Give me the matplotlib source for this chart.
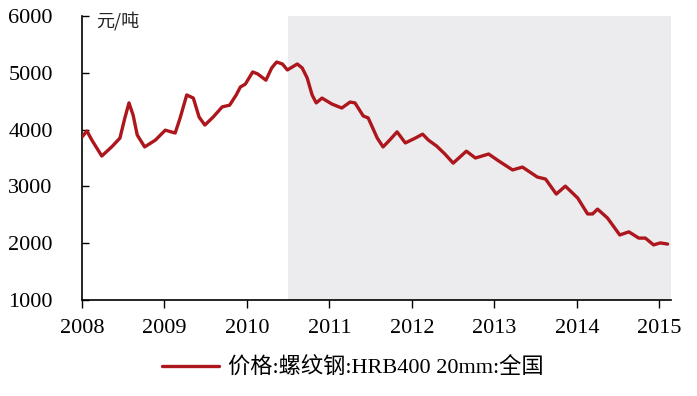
import matplotlib
matplotlib.use('Agg')
import matplotlib.pyplot as plt

# rebar price, decimal year vs yuan/ton
years = [2008.00, 2008.06, 2008.12, 2008.24, 2008.36, 2008.46, 2008.52, 2008.57,
         2008.62, 2008.67, 2008.76, 2008.89, 2009.01, 2009.13, 2009.19, 2009.27,
         2009.35, 2009.42, 2009.49, 2009.59, 2009.70, 2009.79, 2009.87, 2009.92,
         2009.98, 2010.07, 2010.13, 2010.23, 2010.30, 2010.36, 2010.43, 2010.49,
         2010.61, 2010.67, 2010.73, 2010.79, 2010.84, 2010.91, 2011.03, 2011.15,
         2011.25, 2011.31, 2011.41, 2011.47, 2011.58, 2011.65, 2011.73, 2011.82,
         2011.92, 2012.04, 2012.13, 2012.20, 2012.30, 2012.40, 2012.50, 2012.66,
         2012.77, 2012.93, 2013.05, 2013.22, 2013.34, 2013.52, 2013.62, 2013.75,
         2013.86, 2014.01, 2014.13, 2014.19, 2014.25, 2014.37, 2014.52, 2014.63,
         2014.75, 2014.83, 2014.93, 2015.01, 2015.10]
price = [3870, 3975, 3815, 3535, 3695, 3850, 4205, 4470,
         4255, 3905, 3695, 3815, 3990, 3940, 4205, 4610,
         4555, 4220, 4080, 4220, 4400, 4430, 4610, 4750,
         4800, 5015, 4980, 4870, 5085, 5190, 5155, 5050,
         5155, 5085, 4910, 4610, 4470, 4555, 4450, 4380,
         4485, 4470, 4240, 4205, 3850, 3695, 3815, 3960,
         3765, 3850, 3920, 3815, 3710, 3570, 3410, 3620,
         3500, 3570, 3450, 3290, 3340, 3165, 3130, 2865,
         3005, 2795, 2515, 2515, 2600, 2445, 2145, 2200,
         2090, 2090, 1970, 2005, 1985]
year_ticks = [2008, 2009, 2010, 2011, 2012, 2013, 2014, 2015]
price_ticks = [1000, 2000, 3000, 4000, 5000, 6000]
shade_start = 2010.5
series_name = '价格:螺纹钢:HRB400 20mm:全国'

serif = ['Liberation Serif', 'Noto Sans CJK SC']

fig = plt.figure(figsize=(6.97, 3.96), dpi=100)
ax = fig.add_axes([0.1176, 0.2424, 0.845, 0.7172])

ax.axvspan(shade_start, 2015.14, color='#ececee', lw=0, zorder=0)
ax.plot(years, price, color='#ad161c', lw=2.4, solid_joinstyle='round',
        solid_capstyle='round', label=series_name, zorder=3)

ax.set_xlim(2008, 2015.14)
ax.set_ylim(1000, 6000)
ax.set_xticks(year_ticks)
ax.set_yticks(price_ticks)
ax.set_xticklabels([str(y) for y in year_ticks], fontfamily=serif, fontsize=16)
ax.set_yticklabels([str(p) for p in price_ticks], fontfamily=serif, fontsize=16)
ax.tick_params(axis='y', direction='in', length=5, width=1, pad=21)
ax.tick_params(axis='x', direction='out', length=6, width=1, pad=8)

for s in ['top', 'right']:
    ax.spines[s].set_visible(False)
for s in ['left', 'bottom']:
    ax.spines[s].set_linewidth(1.2)

ax.text(0.024, 1.015, '元/吨', transform=ax.transAxes, ha='left', va='top',
        fontfamily=['Noto Sans CJK SC'], fontsize=13, color='#222222')

fig.legend(loc='center', bbox_to_anchor=(0.506, 0.071), frameon=False,
           prop={'family': serif, 'size': 16}, handlelength=2.6,
           handletextpad=0.4)

fig.savefig('out.png', dpi=100)
